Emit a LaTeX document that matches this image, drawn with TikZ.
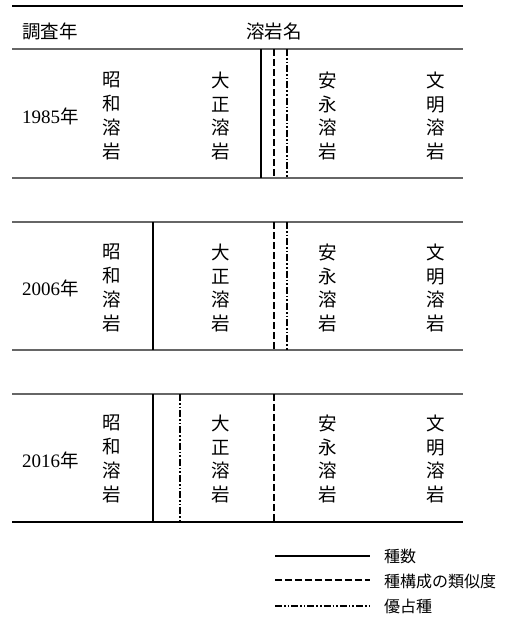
\documentclass[tikz,border=0pt]{standalone}
\usepackage{fontspec}
\setmainfont{Liberation Serif}
\newfontfamily\cjk{Noto Sans CJK JP}
\tikzset{
  rulethick/.style={line width=2pt, black},
  rulethin/.style={line width=1.3pt, black!60},
  solidsep/.style={line width=2pt, black},
  dashsep/.style={line width=2pt, black, dash pattern=on 7pt off 3pt},
  dotsep/.style={line width=2pt, black, dash pattern=on 7pt off 2pt on 1.6pt off 2pt on 1.6pt off 2pt},
  legsolid/.style={line width=1.6pt, black},
  legdash/.style={line width=1.6pt, black, dash pattern=on 7pt off 3pt},
  legdot/.style={line width=1.6pt, black, dash pattern=on 7pt off 2pt on 1.6pt off 2pt on 1.6pt off 2pt},
  vtext/.style={inner sep=0pt, align=center, font=\cjk\fontsize{18.5}{23.8}\selectfont},
  head/.style={inner sep=0pt, font=\cjk\fontsize{18.5}{22}\selectfont},
  year/.style={inner sep=0pt, anchor=west, font=\fontsize{19}{22}\selectfont},
  legtext/.style={inner sep=0pt, anchor=west, font=\cjk\fontsize{16}{19}\selectfont},
}
\newcommand{\yr}[1]{#1{\cjk\fontsize{18.5}{22}\selectfont 年}}
\newcommand{\vlava}[2]{#1\\#2\\溶\\岩}
\begin{document}
\begin{tikzpicture}[x=1pt,y=-1pt]
\useasboundingbox (0,0) rectangle (507,618);
% horizontal rules
\coordinate (t0l) at (12,6);   \coordinate (t0r) at (463,6);
\coordinate (h1l) at (12,49);  \coordinate (h1r) at (463,49);
\coordinate (b1l) at (12,178); \coordinate (b1r) at (463,178);
\coordinate (h2l) at (12,222); \coordinate (h2r) at (463,222);
\coordinate (b2l) at (12,350); \coordinate (b2r) at (463,350);
\coordinate (h3l) at (12,394); \coordinate (h3r) at (463,394);
\coordinate (b3l) at (12,522); \coordinate (b3r) at (463,522);
\draw[rulethick] (t0l) -- (t0r);
\draw[rulethin] (h1l) -- (h1r);
\draw[rulethin] (b1l) -- (b1r);
\draw[rulethin] (h2l) -- (h2r);
\draw[rulethin] (b2l) -- (b2r);
\draw[rulethin] (h3l) -- (h3r);
\draw[rulethick] (b3l) -- (b3r);
% header
\node[head, anchor=west] (hyear) at (22,31) {調査年};
\node[head] (hname) at (274,31) {溶岩名};
% row labels
\node[year] (y1) at (22,116) {\yr{1985}};
\node[year] (y2) at (22,288) {\yr{2006}};
\node[year] (y3) at (22,460) {\yr{2016}};
% vertical texts
\foreach \r/\yc in {1/116, 2/288, 3/459} {
  \node[vtext] (s\r) at (112,\yc) {\vlava{昭}{和}};
  \node[vtext] (t\r) at (221,\yc) {\vlava{大}{正}};
  \node[vtext] (a\r) at (328,\yc) {\vlava{安}{永}};
  \node[vtext] (m\r) at (436,\yc) {\vlava{文}{明}};
}
% row 1 separators
\coordinate (r1s1) at (261,49);  \coordinate (r1s2) at (261,178);
\coordinate (r1d1) at (274,49);  \coordinate (r1d2) at (274,178);
\coordinate (r1p1) at (287,49);  \coordinate (r1p2) at (287,178);
\draw[solidsep] (r1s1) -- (r1s2);
\draw[dashsep] (r1d1) -- (r1d2);
\draw[dotsep] (r1p1) -- (r1p2);
% row 2 separators
\coordinate (r2s1) at (153,222); \coordinate (r2s2) at (153,350);
\coordinate (r2d1) at (274,222); \coordinate (r2d2) at (274,350);
\coordinate (r2p1) at (287,222); \coordinate (r2p2) at (287,350);
\draw[solidsep] (r2s1) -- (r2s2);
\draw[dashsep] (r2d1) -- (r2d2);
\draw[dotsep] (r2p1) -- (r2p2);
% row 3 separators
\coordinate (r3s1) at (153,394); \coordinate (r3s2) at (153,522);
\coordinate (r3p1) at (180,394); \coordinate (r3p2) at (180,522);
\coordinate (r3d1) at (274,394); \coordinate (r3d2) at (274,522);
\draw[solidsep] (r3s1) -- (r3s2);
\draw[dotsep] (r3p1) -- (r3p2);
\draw[dashsep] (r3d1) -- (r3d2);
% legend
\node[legtext] (l1) at (384,556) {種数};
\node[legtext] (l2) at (384,581) {種構成の類似度};
\node[legtext] (l3) at (384,606) {優占種};
\coordinate (l1a) at (275,556); \coordinate (l1b) at (370,556);
\coordinate (l2a) at (275,580); \coordinate (l2b) at (370,580);
\coordinate (l3a) at (275,606); \coordinate (l3b) at (370,606);
\draw[legsolid] (l1a) -- (l1b);
\draw[legdash] (l2a) -- (l2b);
\draw[legdot] (l3a) -- (l3b);
\end{tikzpicture}
\end{document}
